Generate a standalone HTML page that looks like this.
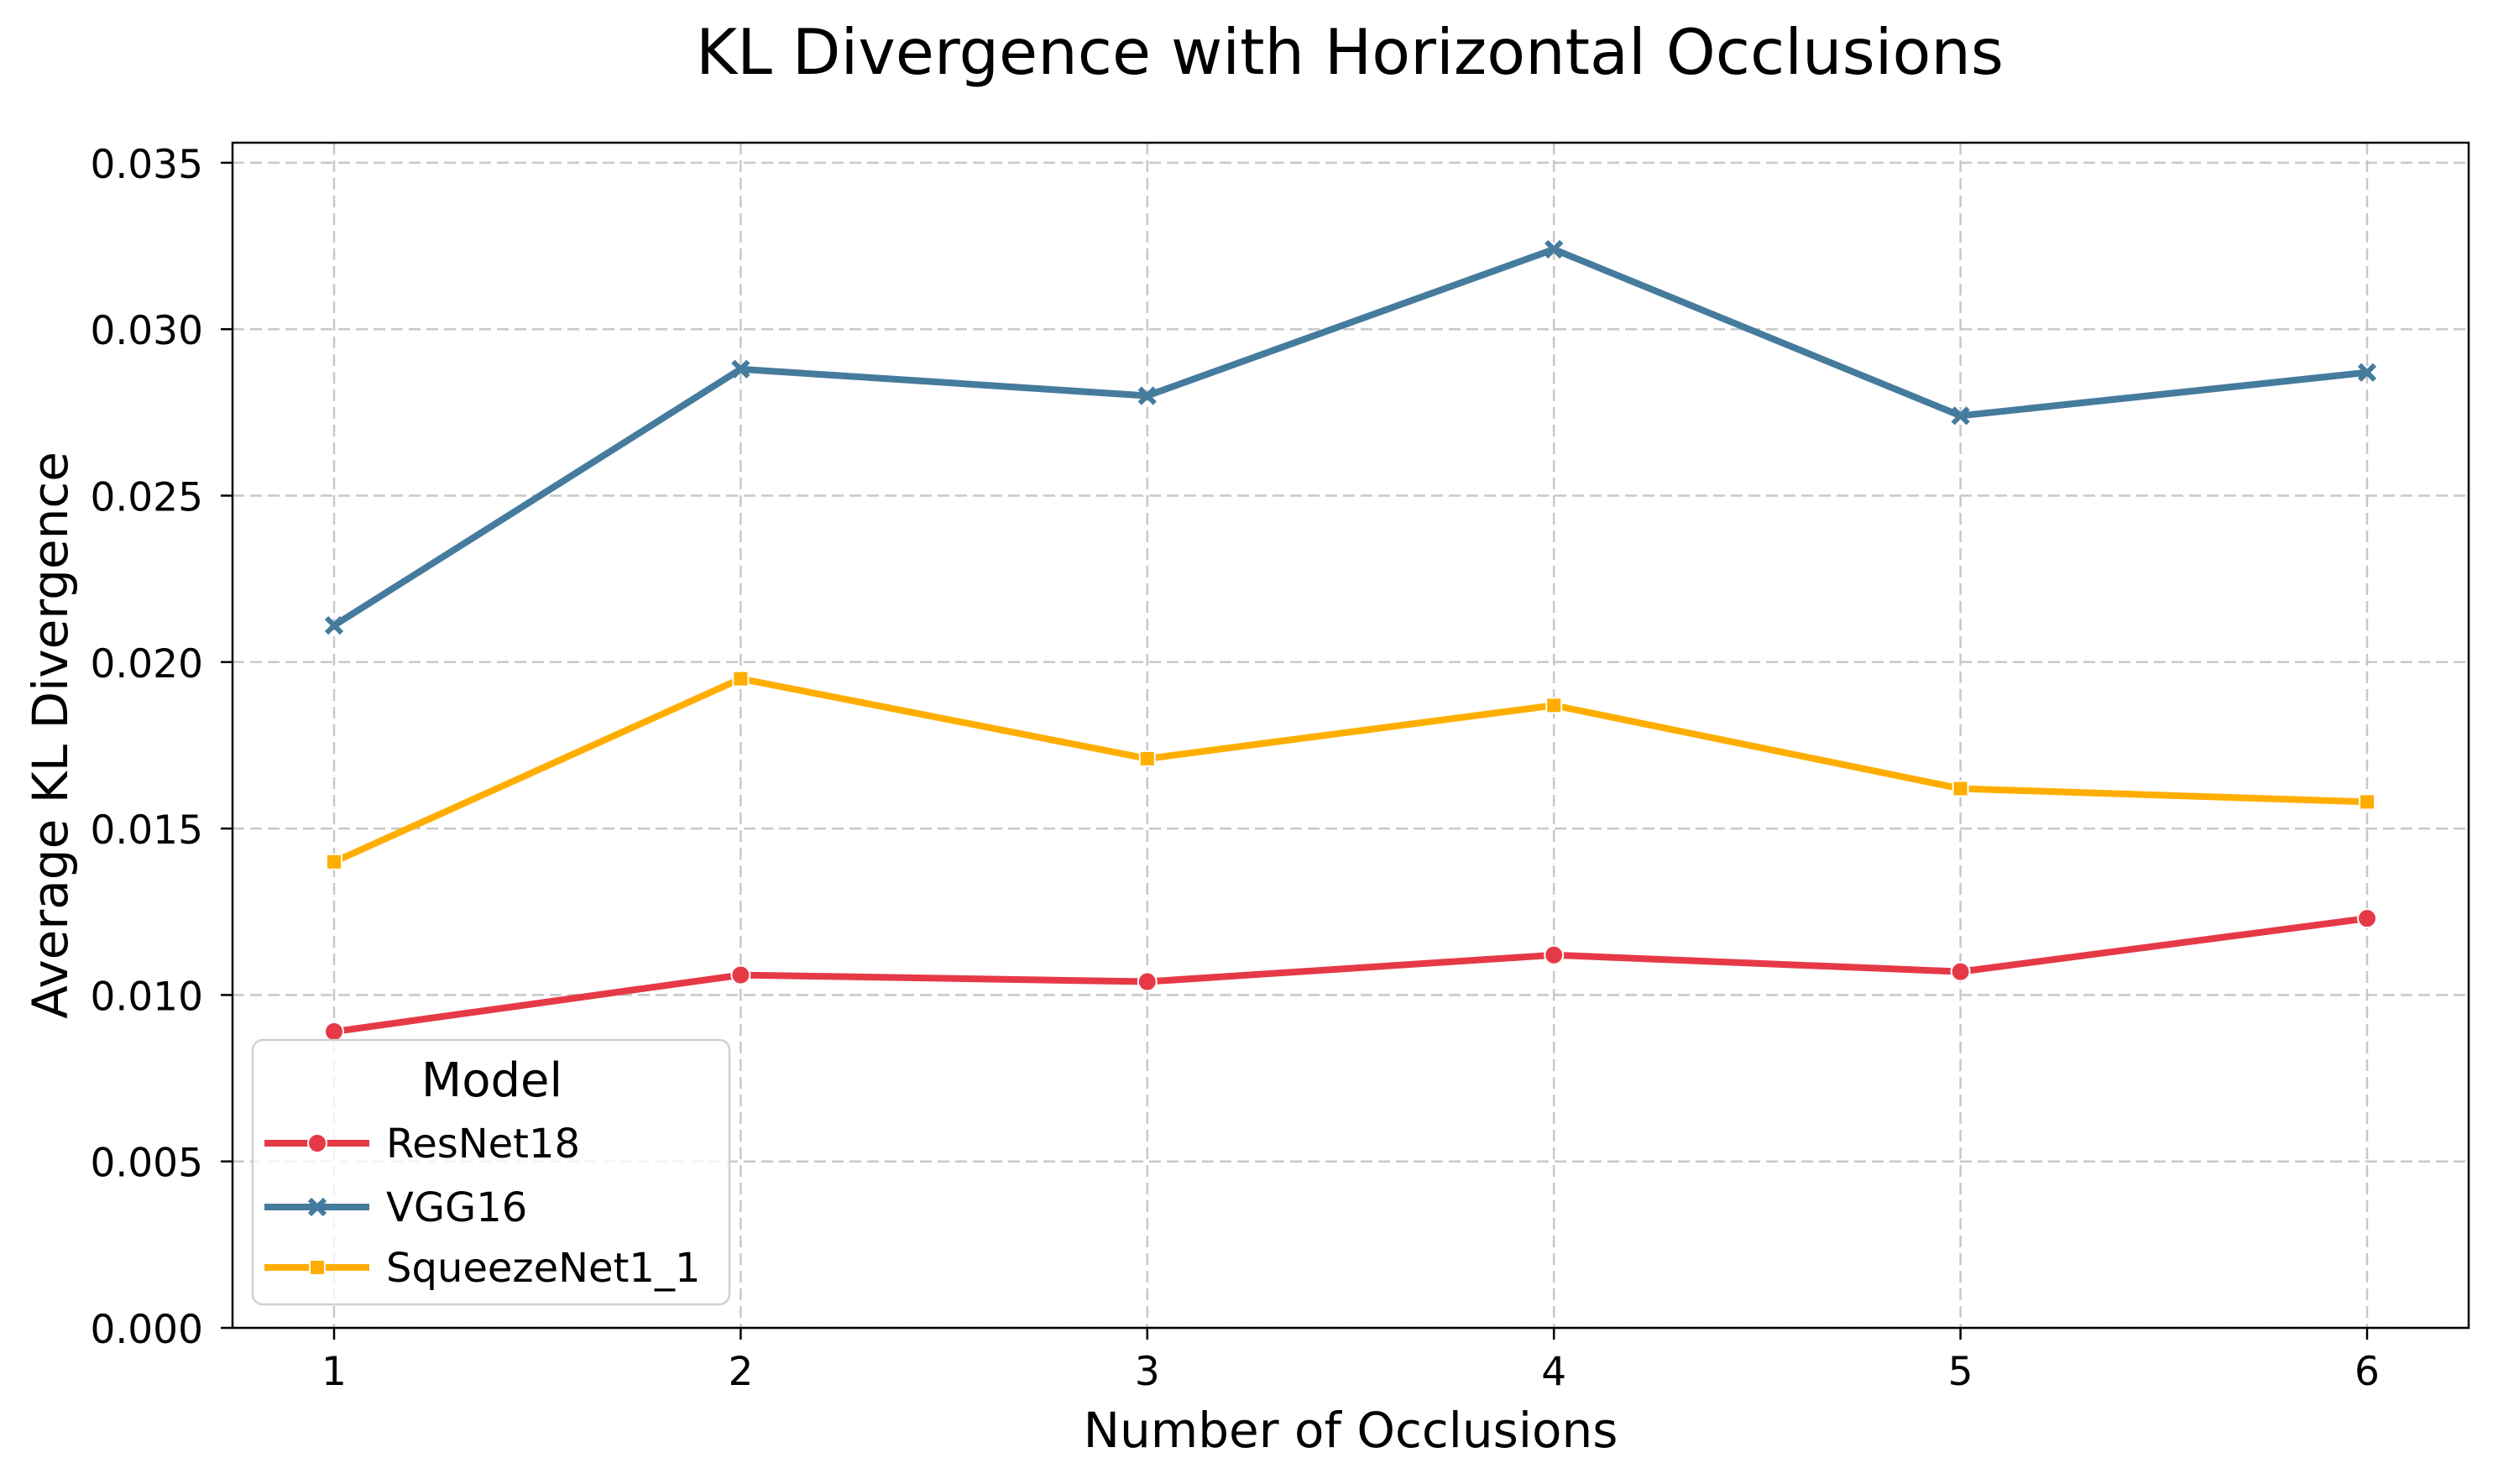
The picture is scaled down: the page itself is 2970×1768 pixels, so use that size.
<!DOCTYPE html>
<html><head><meta charset="utf-8"><style>
body{margin:0;background:#fff;}
svg text{font-family:"DejaVu Sans","Liberation Sans",sans-serif;fill:#000;}
</style></head><body>
<svg id="chart" width="2970" height="1763" viewBox="0 0 2970 1763" xmlns="http://www.w3.org/2000/svg">
<rect width="2970" height="1763" fill="#fff"/>
<text x="1608" y="88" font-size="75" text-anchor="middle">KL Divergence with Horizontal Occlusions</text>
<g id="grid"></g><g id="axes"></g><g id="series"></g><g id="legend"></g>
</svg>
<script>
const categories=[1,2,3,4,5,6];
const resnet=[0.0089,0.0106,0.0104,0.0112,0.0107,0.0123];
const vgg=[0.0211,0.0288,0.0280,0.0324,0.0274,0.0287];
const squeeze=[0.0140,0.0195,0.0171,0.0187,0.0162,0.0158];
const yTicks=[0,0.005,0.010,0.015,0.020,0.025,0.030,0.035];
const yTickLabels=["0.000","0.005","0.010","0.015","0.020","0.025","0.030","0.035"];
const seriesNames=["ResNet18","VGG16","SqueezeNet1_1"];

const L=277,R=2941,T=170,B=1582;
const X=v=>398+(v-1)*484.4;
const Y=v=>1582-v*39660;
const NS="http://www.w3.org/2000/svg";
function mk(tag,attrs,parent){const e=document.createElementNS(NS,tag);for(const k in attrs)e.setAttribute(k,attrs[k]);parent.appendChild(e);return e;}
const grid=document.getElementById('grid'),axes=document.getElementById('axes'),ser=document.getElementById('series'),leg=document.getElementById('legend');
yTicks.forEach((t,i)=>{
 const y=Y(t);
 const g=mk('line',{x1:L,x2:R,y1:y,y2:y,stroke:'#c8c8c8','stroke-width':2.5,'stroke-dasharray':'14 7'},grid);
 
 
 mk('line',{x1:L-14,x2:L,y1:y,y2:y,stroke:'#000','stroke-width':2.5},axes);
 const tx=mk('text',{x:L-35,y:y+18,'font-size':47,'text-anchor':'end'},axes);
 tx.textContent=yTickLabels[i];
 
 
});
categories.forEach(c=>{
 const x=X(c);
 const g=mk('line',{x1:x,x2:x,y1:T,y2:B,stroke:'#c8c8c8','stroke-width':2.5,'stroke-dasharray':'14 7'},grid);
 
 
 mk('line',{x1:x,x2:x,y1:B,y2:B+14,stroke:'#000','stroke-width':2.5},axes);
 const tx=mk('text',{x:x,y:B+68,'font-size':47,'text-anchor':'middle'},axes);
 tx.textContent=c;
 
 
});
const frame=mk('rect',{x:L,y:T,width:R-L,height:B-T,fill:'none',stroke:'#000','stroke-width':2.5},axes);


const xl=mk('text',{x:(L+R)/2,y:1724,'font-size':58,'text-anchor':'middle'},axes);
xl.textContent='Number of Occlusions';


const yl=mk('text',{x:0,y:0,'font-size':58,'text-anchor':'middle',transform:'translate(80,876) rotate(-90)'},axes);
yl.textContent='Average KL Divergence';



function marker(kind,x,y,color,parent){
 let m;
 if(kind==='o'){m=mk('circle',{cx:x,cy:y,r:11,fill:color,stroke:'#fff','stroke-width':2},parent);}
 else if(kind==='s'){m=mk('rect',{x:x-9,y:y-9,width:18,height:18,fill:color,stroke:'#fff','stroke-width':2},parent);}
 else {m=mk('path',{d:`M${x-9} ${y-9}L${x+9} ${y+9}M${x+9} ${y-9}L${x-9} ${y+9}`,stroke:color,'stroke-width':6},parent);}
 return m;
}
const defs=[[resnet,'#e63946','o'],[vgg,'#457b9d','x'],[squeeze,'#ffae00','s']];
defs.forEach(([vals,color,kind],si)=>{
 const g=mk('g',{},ser);
 
 
 const pts=vals.map((v,i)=>X(categories[i])+','+Y(v)).join(' ');
 const pl=mk('polyline',{points:pts,fill:'none',stroke:color,'stroke-width':8,'stroke-linejoin':'round','stroke-linecap':'round'},g);
 
 
 vals.forEach((v,i)=>{
  const m=marker(kind,X(categories[i]),Y(v),color,g);
  
  
 });
});
const lb=mk('rect',{x:301,y:1239,width:568,height:315,rx:12,fill:'#fff','fill-opacity':0.8,stroke:'#d0d0d0','stroke-width':2.5},leg);


const lt=mk('text',{x:586,y:1306,'font-size':56,'text-anchor':'middle'},leg);
lt.textContent='Model';


const ly=[1362,1438,1510];
defs.forEach(([vals,color,kind],si)=>{
 const g=mk('g',{},leg);
 
 
 mk('line',{x1:315,x2:440,y1:ly[si],y2:ly[si],stroke:color,'stroke-width':8},g);
 marker(kind,378,ly[si],color,g);
 const t=mk('text',{x:460,y:ly[si]+17,'font-size':48},g);
 t.textContent=seriesNames[si];
});
</script>
</body></html>
